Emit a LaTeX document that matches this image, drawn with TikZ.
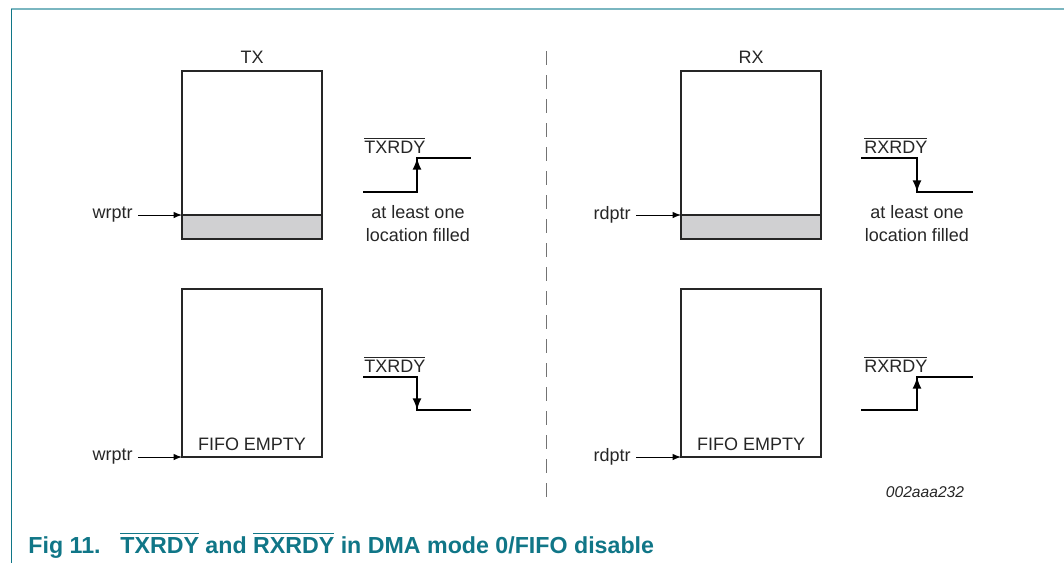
\documentclass[tikz,border=0pt]{standalone}
\usepackage{amsmath}
\usepackage{fontspec}
\setmainfont{Liberation Sans}
\usepackage{tikz}
\usetikzlibrary{arrows}
\usetikzlibrary{positioning}

\definecolor{nxpteal}{RGB}{16,118,135}
\definecolor{nxplight}{RGB}{122,182,192}
\definecolor{filled}{RGB}{208,208,210}

\tikzset{
  lbl/.style={font=\fontsize{9}{11.5}\selectfont, text=black!85},
  fifo/.style={draw=black!85, line width=1.3pt, minimum width=70pt, minimum height=84pt, outer sep=0pt, inner sep=0pt},
  sig/.style={draw=black, line width=1pt},
  ptr/.style={draw=black, line width=0.45pt, -latex},
  caption/.style={font=\fontsize{11.6}{13}\selectfont\bfseries, text=nxpteal, inner sep=0pt}
}

\begin{document}
\begin{tikzpicture}[x=0.5pt, y=-0.5pt]
    \useasboundingbox (0,0) rectangle (1064,563);
    % frame
    \draw[nxplight, line width=1pt] (11,9) -- (1064,9);
    \draw[nxpteal, line width=0.5pt] (11,9) -- (11,563);

    % TX side, upper
    \node[fifo] (tx1) at (252,155) {};
    \draw[draw=black!85, line width=1.3pt, fill=filled] (tx1.south west) rectangle ([yshift=12pt]tx1.south east);
    \coordinate (tx1fill) at ([yshift=12pt]tx1.south west);
    \node[lbl, above=0pt of tx1] (txlbl) {TX};
    \node[lbl, anchor=east, inner sep=2.5pt] (wr1) at (138,215) {wrptr};
    \draw[ptr] (wr1) -- (tx1fill);
    \node[lbl, anchor=base west, inner sep=0pt] (txrdy1) at (364,153) {$\overline{\mbox{TXRDY}}$};
    \coordinate (ta) at (363,192);
    \coordinate (tb) at (417,192);
    \coordinate (tc) at (417,158);
    \coordinate (td) at (471,158);
    \draw[sig] (ta) -- (tb) -- (tc) -- (td);
    \draw[sig, -latex] (tb) -- (tc);
    \node[lbl, align=center] (txnote) at (418,224) {at least one\\location filled};

    % TX side, lower
    \node[fifo] (tx2) at (252,373) {};
    \node[lbl, anchor=south, inner sep=3pt] (txempty) at (tx2.south) {FIFO EMPTY};
    \node[lbl, anchor=east, inner sep=2.5pt] (wr2) at (138,457) {wrptr};
    \draw[ptr] (wr2) -- (tx2.south west);
    \node[lbl, anchor=base west, inner sep=0pt] (txrdy2) at (364,372) {$\overline{\mbox{TXRDY}}$};
    \coordinate (te) at (363,377);
    \coordinate (tf) at (417,377);
    \coordinate (tg) at (417,410);
    \coordinate (th) at (471,410);
    \draw[sig] (te) -- (tf) -- (tg) -- (th);
    \draw[sig, -latex] (tf) -- (tg);

    % divider
    \draw[black!55, line width=0.5pt, dash pattern=on 7pt off 5pt] (546,51) -- (546,500);

    % RX side, upper
    \node[fifo] (rx1) at (751,155) {};
    \draw[draw=black!85, line width=1.3pt, fill=filled] (rx1.south west) rectangle ([yshift=12pt]rx1.south east);
    \coordinate (rx1fill) at ([yshift=12pt]rx1.south west);
    \node[lbl, above=0pt of rx1] (rxlbl) {RX};
    \node[lbl, anchor=east, inner sep=2.5pt] (rd1) at (636,215) {rdptr};
    \draw[ptr] (rd1) -- (rx1fill);
    \node[lbl, anchor=base west, inner sep=0pt] (rxrdy1) at (864,153) {$\overline{\mbox{RXRDY}}$};
    \coordinate (ra) at (861,158);
    \coordinate (rb) at (917,158);
    \coordinate (rc) at (917,192);
    \coordinate (rd) at (973,192);
    \draw[sig] (ra) -- (rb) -- (rc) -- (rd);
    \draw[sig, -latex] (rb) -- (rc);
    \node[lbl, align=center] (rxnote) at (917,224) {at least one\\location filled};

    % RX side, lower
    \node[fifo] (rx2) at (751,373) {};
    \node[lbl, anchor=south, inner sep=3pt] (rxempty) at (rx2.south) {FIFO EMPTY};
    \node[lbl, anchor=east, inner sep=2.5pt] (rd2) at (636,457) {rdptr};
    \draw[ptr] (rd2) -- (rx2.south west);
    \node[lbl, anchor=base west, inner sep=0pt] (rxrdy2) at (864,372) {$\overline{\mbox{RXRDY}}$};
    \coordinate (re) at (861,410);
    \coordinate (rf) at (917,410);
    \coordinate (rg) at (917,377);
    \coordinate (rh) at (973,377);
    \draw[sig] (re) -- (rf) -- (rg) -- (rh);
    \draw[sig, -latex] (rf) -- (rg);

    \node[lbl, font=\fontsize{7.8}{9}\selectfont\itshape] (figid) at (925,492) {002aaa232};

    % caption
    \node[caption, anchor=base west] (figno) at (28,553) {Fig 11.};
    \node[caption, anchor=base west] (figtitle) at (120,553) {$\overline{\mbox{\bfseries TXRDY}}$ and $\overline{\mbox{\bfseries RXRDY}}$ in DMA mode 0/FIFO disable};
\end{tikzpicture}
\end{document}
